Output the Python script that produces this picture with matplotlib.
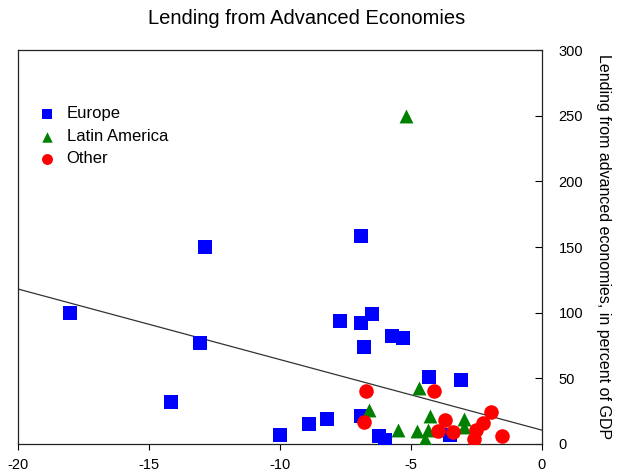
import matplotlib
matplotlib.use("Agg")
import matplotlib.pyplot as plt
import numpy as np

plt.rcParams['font.family'] = ['Liberation Sans', 'DejaVu Sans']
plt.rcParams['axes.unicode_minus'] = False

title = "Lending from Advanced Economies"
ylabel = "Lending from advanced economies, in percent of GDP"

europe_x = [-18.0, -12.85, -13.05, -14.15, -10.0, -6.9, -7.7, -6.9, -6.5, -6.8,
            -5.7, -5.3, -4.3, -3.1, -8.9, -8.2, -6.9, -6.2, -6.0, -3.5]
europe_y = [100, 150, 77, 32, 7, 158, 94, 92, 99, 74,
            82, 81, 51, 49, 15, 19, 21, 6, 3, 7]

latam_x = [-5.2, -4.7, -6.6, -5.5, -4.75, -4.35, -4.45, -4.25, -2.95, -2.95, -2.5]
latam_y = [250, 43, 26, 11, 10, 11, 4, 21, 19, 13, 1]

other_x = [-6.7, -6.8, -4.1, -3.7, -3.95, -3.4, -2.6, -2.5, -2.25, -1.95, -1.5]
other_y = [40, 17, 40, 18, 10, 9, 4, 11, 16, 24, 6]

fit_intercept = 10.6
fit_slope = -5.37

xticks = [-20, -15, -10, -5, 0]
yticks = [0, 50, 100, 150, 200, 250, 300]

fig = plt.figure(figsize=(6.28, 4.74), dpi=100)
ax = fig.add_axes([0.0287, 0.0633, 0.8339, 0.8312])

ax.scatter(europe_x, europe_y, marker='s', s=90, color='#0000ff', label='Europe', zorder=3, linewidths=0)
ax.scatter(latam_x, latam_y, marker='^', s=100, color='#008000', label='Latin America', zorder=3, linewidths=0)
ax.scatter(other_x, other_y, marker='o', s=110, color='#ff0000', label='Other', zorder=3, linewidths=0)

lx = np.array([-20, 0])
ax.plot(lx, fit_intercept + fit_slope * lx, color='#333333', lw=0.9, zorder=2)

ax.set_xlim(-20, 0)
ax.set_ylim(0, 300)
ax.set_xticks(xticks)
ax.set_yticks(yticks)
ax.yaxis.tick_right()
ax.yaxis.set_label_position('right')
ax.tick_params(axis='y', direction='in', length=5, labelsize=10.5, pad=12, right=True, left=False)
ax.tick_params(axis='x', direction='out', length=4, labelsize=10.5, pad=6)
ax.set_ylabel(ylabel, rotation=-90, fontsize=11.5, labelpad=20)
for sp in ax.spines.values():
    sp.set_linewidth(0.9)
    sp.set_color('#222222')

fig.suptitle(title, x=0.488, y=0.98, fontsize=14.5)

leg = ax.legend(loc='upper left', bbox_to_anchor=(-0.006, 0.895), frameon=False, fontsize=12,
                handletextpad=0.2, labelspacing=0.45, markerscale=0.75, borderaxespad=0.5)

fig.savefig('out.png', dpi=100)
